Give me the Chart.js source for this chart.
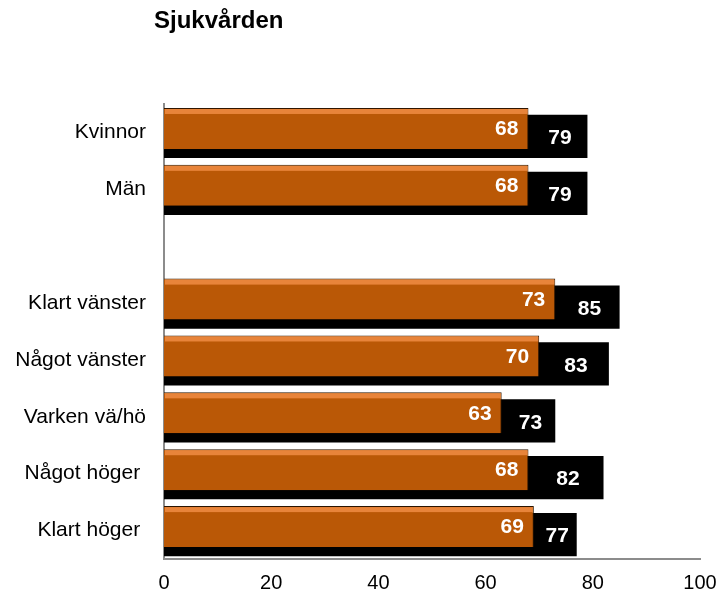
<!DOCTYPE html>
<html>
<head>
<meta charset="utf-8">
<script src="https://cdn.jsdelivr.net/npm/chart.js@4/dist/chart.umd.min.js"></script>
<style>
  body { margin: 0; background: #fff; }
  #wrap { width: 724px; height: 592px; }
</style>
</head>
<body>
<div id="wrap"><canvas id="chart" width="724" height="592"></canvas></div>
<script>
const categories = ['Kvinnor', 'Män', '', 'Klart vänster', 'Något vänster', 'Varken vä/hö', 'Något höger ', 'Klart höger '];
const orangeValues = [68, 68, null, 73, 70, 63, 68, 69];
const blackValues = [79, 79, null, 85, 83, 73, 82, 77];
const xTicks = [0, 20, 40, 60, 80, 100];

const FONT = '"Liberation Sans", Arial, sans-serif';

// title + value labels + highlight stripe on the orange bars
const decor = {
  id: 'decor',
  afterDatasetsDraw(chart) {
    const ctx = chart.ctx;
    const orange = chart.getDatasetMeta(0).data;
    const black = chart.getDatasetMeta(1).data;
    ctx.save();
    orange.forEach((bar, i) => {
      if (orangeValues[i] == null) return;
      const top = bar.y - bar.height / 2;
      ctx.fillStyle = '#E8843A';
      ctx.fillRect(bar.base + 1, top + 1, bar.x - bar.base - 2, 5);
    });
    ctx.font = 'bold 21px ' + FONT;
    ctx.fillStyle = '#fff';
    ctx.textBaseline = 'middle';
    orange.forEach((bar, i) => {
      if (orangeValues[i] == null) return;
      ctx.textAlign = 'right';
      ctx.fillText(orangeValues[i], bar.x - 10, bar.y + 1);
      const b = black[i];
      ctx.textAlign = 'center';
      ctx.fillText(blackValues[i], (bar.x + b.x) / 2 + 2, b.y + 2);
    });
    ctx.font = 'bold 24px ' + FONT;
    ctx.fillStyle = '#000';
    ctx.textAlign = 'left';
    ctx.textBaseline = 'alphabetic';
    ctx.fillText('Sjukvården', 154, 28);
    ctx.restore();
  }
};

new Chart(document.getElementById('chart'), {
  type: 'bar',
  data: {
    labels: categories,
    datasets: [
      {
        data: orangeValues,
        backgroundColor: '#BA5806',
        borderColor: '#2a1400',
        borderWidth: { top: 1, right: 1 },
        borderSkipped: 'start',
        categoryPercentage: 0.282,
        barPercentage: 5.1
      },
      {
        data: blackValues,
        backgroundColor: '#000',
        borderWidth: 0,
        categoryPercentage: 0.282,
        barPercentage: 5.4
      }
    ]
  },
  options: {
    indexAxis: 'y',
    responsive: false,
    animation: false,
    layout: { padding: { top: 104, right: 24, left: 0, bottom: 0 } },
    plugins: {
      legend: { display: false },
      tooltip: { enabled: false },
      title: { display: false }
    },
    scales: {
      x: {
        min: 0,
        max: 100,
        afterBuildTicks: s => { s.ticks = xTicks.map(v => ({ value: v })); },
        afterFit: s => { s.height = 33; },
        grid: { display: false },
        border: { color: '#8c8c8c', width: 2 },
        ticks: { color: '#000', font: { family: FONT, size: 20 }, padding: 4 }
      },
      y: {
        afterFit: s => { s.width = 164; },
        grid: { display: false },
        border: { color: '#8c8c8c', width: 2 },
        ticks: { color: '#000', font: { family: FONT, size: 21 }, padding: 10, autoSkip: false }
      }
    }
  },
  plugins: [decor]
});
</script>
</body>
</html>
